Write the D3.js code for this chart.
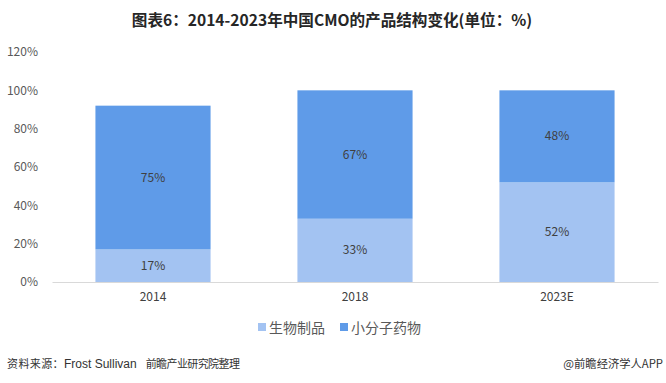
<!DOCTYPE html>
<html><head><meta charset="utf-8">
<script src="https://cdn.jsdelivr.net/npm/d3@7/dist/d3.min.js"></script>
<style>body{margin:0;background:#fff;}svg{display:block;font-family:"Noto Sans CJK SC","Noto Sans",sans-serif;}</style>
</head><body>
<svg id="c" width="666" height="383"></svg>
<script>
const categories = ["2014", "2018", "2023E"];
const seriesNames = ["生物制品", "小分子药物"];
const bio = [17, 33, 52];
const small = [75, 67, 48];
const yTicks = [0, 20, 40, 60, 80, 100, 120];
const colors = ["#a3c3f2", "#5f9be8"];

const svg = d3.select("#c");
const x = d3.scaleBand().domain(categories).range([52, 658]).paddingInner(0.43).paddingOuter(0.215);
const y = d3.scaleLinear().domain([0, 120]).range([282, 52]);

svg.append("text").attr("x", 332).attr("y", 26).attr("text-anchor", "middle")
  .attr("font-size", 15.6).attr("font-weight", "bold").attr("fill", "#262626")
  .text("图表6：2014-2023年中国CMO的产品结构变化(单位：%)");

const yAxis = svg.append("g").attr("transform", "translate(52,0)")
  .call(d3.axisLeft(y).tickValues(yTicks).tickFormat(d => d + "%").tickSize(0).tickPadding(14));
yAxis.select(".domain").remove();
yAxis.selectAll("text").attr("font-size", 12).attr("fill", "#595959").attr("font-family", "Noto Sans CJK SC");

const data = categories.map((c, i) => ({cat: c, v: [bio[i], small[i]]}));
data.forEach(d => {
  let base = 0;
  d.v.forEach((v, k) => {
    svg.append("rect").attr("x", x(d.cat)).attr("width", x.bandwidth())
      .attr("y", y(base + v)).attr("height", y(base) - y(base + v)).attr("fill", colors[k]);
    svg.append("text").attr("x", x(d.cat) + x.bandwidth() / 2).attr("y", y(base + v / 2) + 4)
      .attr("text-anchor", "middle").attr("font-size", 12).attr("fill", "#404040").text(v + "%");
    base += v;
  });
});

const xAxis = svg.append("g").attr("transform", "translate(0,282)")
  .call(d3.axisBottom(x).tickSize(0).tickPadding(10));
xAxis.select(".domain").attr("stroke", "#d9d9d9");
xAxis.selectAll("text").attr("font-size", 12).attr("fill", "#404040").attr("font-family", "Noto Sans CJK SC");

const legX = [258, 340];
seriesNames.forEach((n, k) => {
  svg.append("rect").attr("x", legX[k]).attr("y", 323).attr("width", 8).attr("height", 8).attr("fill", colors[k]);
  svg.append("text").attr("x", legX[k] + 11).attr("y", 333).attr("font-size", 14).attr("fill", "#595959").text(n);
});

const src = svg.append("text").attr("x", 7).attr("y", 368).attr("font-size", 11).attr("fill", "#333");
src.append("tspan").attr("letter-spacing", 0.4).text("资料来源：");
src.append("tspan").attr("font-family", "Liberation Sans Narrow, Liberation Sans").attr("font-size", 12).text("Frost Sullivan");
src.append("tspan").attr("dx", 9).attr("letter-spacing", -0.6).text("前瞻产业研究院整理");
svg.append("text").attr("x", 663).attr("y", 368).attr("text-anchor", "end").attr("font-size", 11.3).attr("fill", "#333")
  .text("@前瞻经济学人APP");
</script>
</body></html>
